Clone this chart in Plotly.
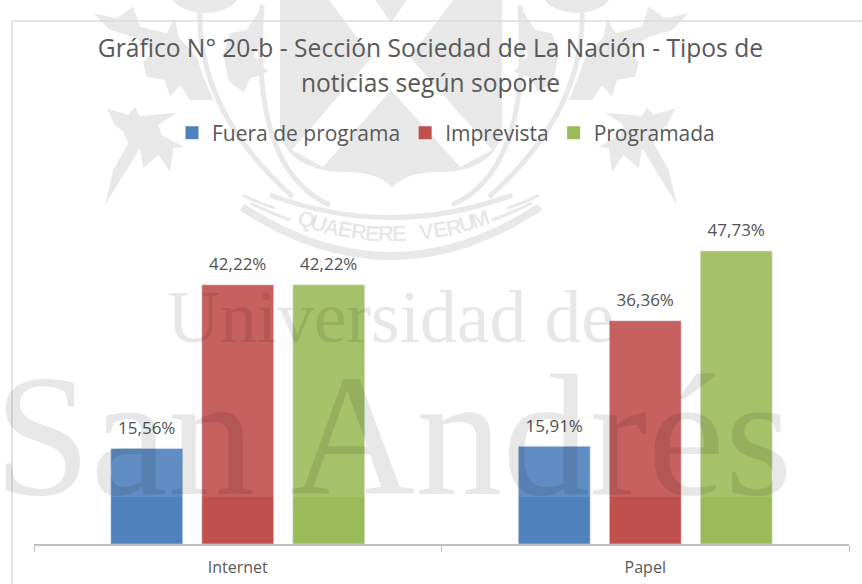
import math
import plotly.graph_objects as go

categories = ["Internet", "Papel"]
series_names = ["Fuera de programa", "Imprevista", "Programada"]
fuera_de_programa = [15.56, 15.91]
imprevista = [42.22, 36.36]
programada = [42.22, 47.73]
series_values = [fuera_de_programa, imprevista, programada]
colors = ["#4f81bd", "#c0504d", "#9bbb59"]
title_lines = ["Gráfico N° 20-b - Sección Sociedad de La Nación - Tipos de", "noticias según soporte"]

W, H = 862, 584
L, R, T, B = 34, 13, 237, 40
PW, PH = W - L - R, H - T - B
GRAY = "#e6e6e6"


def px(x):
    return (x - L) / PW


def py(y):
    return (H - B - y) / PH


def poly(points, mirror=False):
    pts = [((782 - x) if mirror else x, y) for x, y in points]
    return "M" + " L".join(f"{px(x):.4f},{py(y):.4f}" for x, y in pts) + " Z"


def zoom_pts(points):
    return [(90 + x / 3, y / 3) for x, y in points]


shapes = []


def add_fill(path, color=GRAY):
    shapes.append(dict(type="path", path=path, xref="paper", yref="paper",
                       fillcolor=color, line=dict(width=0), layer="below"))


def add_curve(p0, c, p1, width, mirror=False):
    f = (lambda x: 782 - x) if mirror else (lambda x: x)
    shapes.append(dict(type="path", xref="paper", yref="paper", layer="below",
                       path=f"M{px(f(p0[0])):.4f},{py(p0[1]):.4f} Q{px(f(c[0])):.4f},{py(c[1]):.4f} {px(f(p1[0])):.4f},{py(p1[1]):.4f}",
                       line=dict(color=GRAY, width=width)))


# crest: shield
s = "M%.4f,%.4f L%.4f,%.4f L%.4f,%.4f " % (px(280), py(-5), px(502), py(-5), px(502), py(125))
for c1, c2, e in [((502, 160), (470, 172), (440, 172)), ((415, 172), (400, 178), (392, 188)),
                  ((384, 178), (370, 172), (345, 172)), ((315, 172), (280, 160), (280, 125))]:
    s += "C%.4f,%.4f %.4f,%.4f %.4f,%.4f " % (px(c1[0]), py(c1[1]), px(c2[0]), py(c2[1]), px(e[0]), py(e[1]))
add_fill(s + "Z")
# white saltire
add_fill(poly([(325, -5), (372, -5), (391, 23), (410, -5), (457, -5), (410, 57), (492, 150), (460, 167),
               (391, 90), (323, 167), (292, 150), (372, 57)]), "#ffffff")
# thistle leaves, stems, heads (left and mirrored)
leaf_low = zoom_pts([(50, 325), (115, 345), (135, 322), (150, 348), (260, 338), (205, 375), (215, 405),
                     (280, 440), (250, 445), (240, 515), (205, 465), (160, 505), (150, 445), (45, 615),
                     (70, 510), (115, 430), (100, 395), (75, 375)])
leaf_up = zoom_pts([(10, 40), (80, 55), (130, 20), (150, 80), (230, 100), (255, 55), (265, 110), (320, 170),
                    (340, 230), (370, 300), (300, 300), (270, 255), (240, 290), (225, 240), (170, 230),
                    (160, 190), (190, 150), (130, 110), (60, 90)])
leaf_in = zoom_pts([(510, 30), (520, 120), (490, 165), (535, 215), (480, 235), (462, 275), (430, 255),
                    (415, 240), (400, 160), (420, 100), (470, 90)])
for m in (False, True):
    for leaf in (leaf_low, leaf_up, leaf_in):
        add_fill(poly(leaf, m))
    add_curve((200, 5), (195, 110), (293, 197), 5, m)
    add_curve((262, 5), (250, 170), (330, 205), 5, m)
    cx = 577 if m else 205
    shapes.append(dict(type="circle", xref="paper", yref="paper", layer="below",
                       x0=px(cx - 35), x1=px(cx + 35), y0=py(13), y1=py(-30),
                       fillcolor=GRAY, line=dict(width=0)))
    add_curve((250, 203), (268, 212), (290, 220), 3, m)
    add_curve((243, 195), (255, 202), (275, 208), 3, m)
# ring arcs
add_curve((242, 207), (391, 305), (540, 207), 8)
add_curve((270, 195), (391, 240), (512, 195), 5)

# frame of the chart
for x0, y0, x1, y1 in [(12, 21, 12, 584), (12, 21, 862, 21)]:
    shapes.append(dict(type="line", xref="paper", yref="paper", x0=px(x0), x1=px(x1), y0=py(y0), y1=py(y1),
                       line=dict(color="#d9d9d9", width=1.5), layer="below"))
# pale veil of the watermark over the chart
shapes.append(dict(type="rect", xref="paper", yref="paper", x0=px(0), x1=px(W), y0=py(497), y1=py(0),
                   fillcolor="rgba(255,255,255,0.1)", line=dict(width=0), layer="above"))

annotations = [
    dict(text="Universidad de", xref="paper", yref="paper", x=px(390), y=py(360), yanchor="bottom", xanchor="center",
         showarrow=False, font=dict(family="Liberation Serif", size=73.5, color="rgba(0,0,0,0.095)")),
    dict(text="San\u2009Andrés", xref="paper", yref="paper", x=px(393), y=py(534), yanchor="bottom", xanchor="center",
         showarrow=False, font=dict(family="Liberation Serif", size=174, color="rgba(0,0,0,0.095)")),
]
motto = "QUAERERE VERUM"
R_ARC, CY = 266, -32
for i, ch in enumerate(motto):
    a = math.radians(-19 + 38 * i / (len(motto) - 1))
    annotations.append(dict(text=ch, showarrow=False, xref="paper", yref="paper",
                            x=px(393 + R_ARC * math.sin(a)), y=py(CY + R_ARC * math.cos(a)),
                            xanchor="center", yanchor="middle", textangle=-math.degrees(a),
                            font=dict(family="Liberation Sans", size=22, weight="bold", color="rgba(0,0,0,0.10)")))

fig = go.Figure()
for name, vals, col in zip(series_names, series_values, colors):
    fig.add_bar(x=categories, y=vals, name=name, showlegend=False, cliponaxis=False,
                marker=dict(color=col),
                texttemplate='<span style="font-size:17px">%{y:.2f}%</span><br>\u00a0',
                textposition="outside", textangle=0, constraintext="none",
                textfont=dict(family="Open Sans", size=7.5, color="#404040"), hoverinfo="x+y")
for name, col in zip(series_names, colors):
    fig.add_scatter(x=[None], y=[None], mode="markers", name=name,
                    marker=dict(symbol="square", size=13, color=col))

fig.update_layout(
    width=W, height=H, margin=dict(l=L, r=R, t=T, b=B, autoexpand=False),
    paper_bgcolor="#ffffff", plot_bgcolor="rgba(0,0,0,0)",
    separators=",.",
    barmode="group", bargap=0.33, bargroupgap=0.21,
    title=dict(text="<br>".join(f'<span style="font-size:24.6px">{t}</span>' for t in title_lines),
               x=px(441), xanchor="center", y=1 - 57 / H, yanchor="middle",
               font=dict(family="Open Sans", size=27, color="#595959")),
    legend=dict(orientation="h", x=px(446), xanchor="center", y=py(133), yanchor="middle",
                font=dict(family="Open Sans", size=21, color="#595959"), bgcolor="rgba(0,0,0,0)",
                traceorder="normal", itemclick=False),
    xaxis=dict(type="category", categoryorder="array", categoryarray=categories, range=[-0.5, 1.5],
               tickson="boundaries", ticklabelstandoff=8,
               ticks="outside", ticklen=6, tickcolor="#bfbfbf", showline=True, linecolor="#bfbfbf", linewidth=1.5,
               showgrid=False, tickfont=dict(family="Open Sans", size=16, color="#595959")),
    yaxis=dict(range=[0, 50], visible=False, showgrid=False, zeroline=False),
    shapes=shapes, annotations=annotations,
)
fig.write_html("out.html", config=dict(displayModeBar=False), post_script="document.body.style.margin='0';")
